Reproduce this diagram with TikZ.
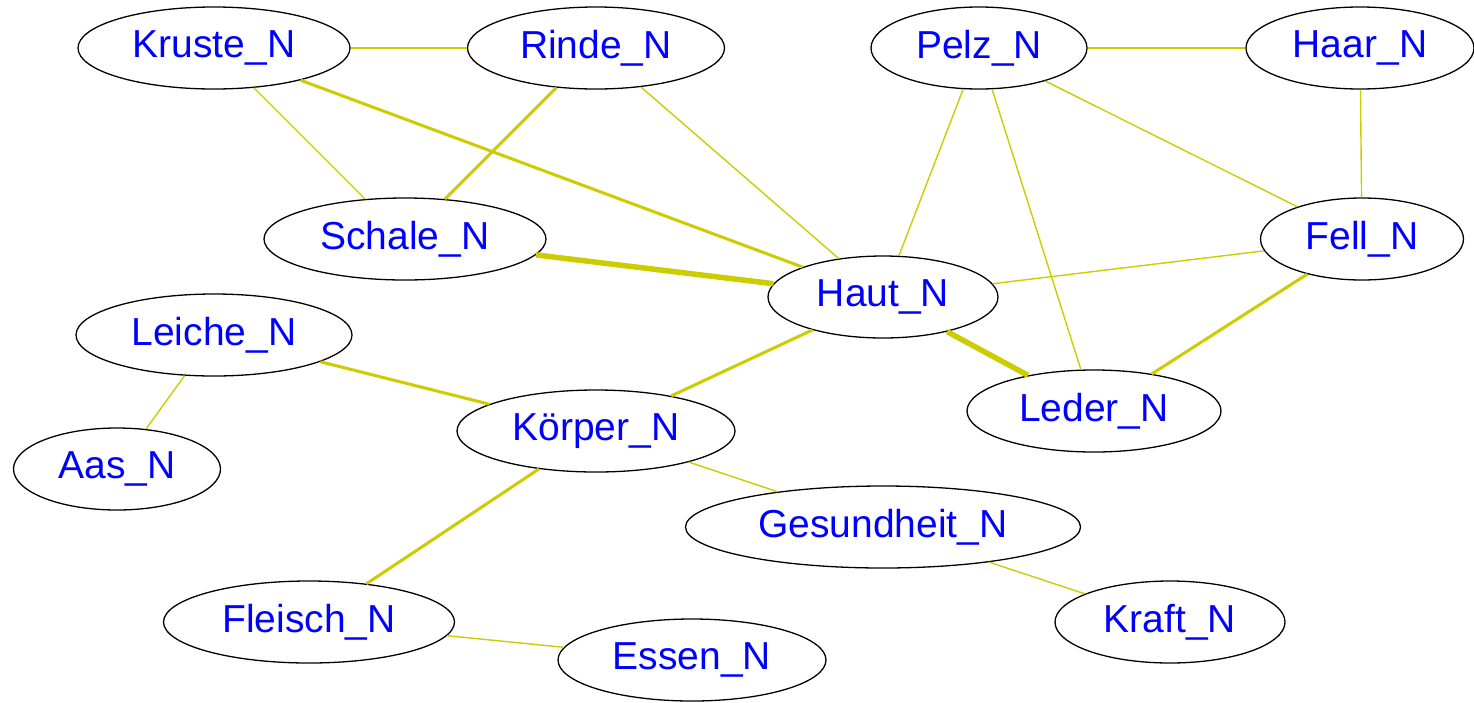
\documentclass[tikz,border=0pt]{standalone}
\usepackage{fontspec}
\setmainfont{Liberation Sans}
\usetikzlibrary{shapes.geometric}
\definecolor{edgecol}{HTML}{CCCC00}
\begin{document}
\begin{tikzpicture}[x=1pt,y=-1pt,
  word/.style={ellipse,draw=black,line width=1.3pt,inner sep=0pt,
    minimum height=82pt,text=blue,font=\fontsize{39}{44}\selectfont},
  thinedge/.style={draw=edgecol,line width=1.4pt},
  midedge/.style={draw=edgecol,line width=3pt},
  thickedge/.style={draw=edgecol,line width=5.5pt}]
\useasboundingbox (0,0) rectangle (1474,702);
\node[word,minimum width=272pt] (kruste) at (214,48) {Kruste\_N};
\node[word,minimum width=257pt] (rinde) at (596,48) {Rinde\_N};
\node[word,minimum width=216pt] (pelz) at (979,48) {Pelz\_N};
\node[word,minimum width=228pt] (haar) at (1360,48) {Haar\_N};
\node[word,minimum width=282pt] (schale) at (405,239) {Schale\_N};
\node[word,minimum width=203pt] (fell) at (1362,239) {Fell\_N};
\node[word,minimum width=230pt] (haut) at (883,297) {Haut\_N};
\node[word,minimum width=276pt] (leiche) at (214,335) {Leiche\_N};
\node[word,minimum width=254pt] (leder) at (1094,411) {Leder\_N};
\node[word,minimum width=278pt] (koerper) at (596,431) {Körper\_N};
\node[word,minimum width=207pt] (aas) at (117,469) {Aas\_N};
\node[word,minimum width=395pt] (gesund) at (883,527) {Gesundheit\_N};
\node[word,minimum width=291pt] (fleisch) at (309,622) {Fleisch\_N};
\node[word,minimum width=230pt] (kraft) at (1170,622) {Kraft\_N};
\node[word,minimum width=268pt] (essen) at (692,660) {Essen\_N};

% connectors, weighted by line width
\draw[thinedge] (kruste) -- (rinde);
\draw[thinedge] (kruste) -- (schale);
\draw[midedge] (kruste) -- (haut);
\draw[midedge] (rinde) -- (schale);
\draw[thinedge] (rinde) -- (haut);
\draw[thickedge] (schale) -- (haut);
\draw[thinedge] (pelz) -- (haar);
\draw[thinedge] (pelz) -- (haut);
\draw[thinedge] (pelz) -- (leder);
\draw[thinedge] (pelz) -- (fell);
\draw[thinedge] (haar) -- (fell);
\draw[thinedge] (fell) -- (haut);
\draw[midedge] (fell) -- (leder);
\draw[thickedge] (haut) -- (leder);
\draw[midedge] (haut) -- (koerper);
\draw[midedge] (leiche) -- (koerper);
\draw[thinedge] (leiche) -- (aas);
\draw[thinedge] (koerper) -- (gesund);
\draw[midedge] (koerper) -- (fleisch);
\draw[thinedge] (gesund) -- (kraft);
\draw[thinedge] (fleisch) -- (essen);
\end{tikzpicture}
\end{document}
